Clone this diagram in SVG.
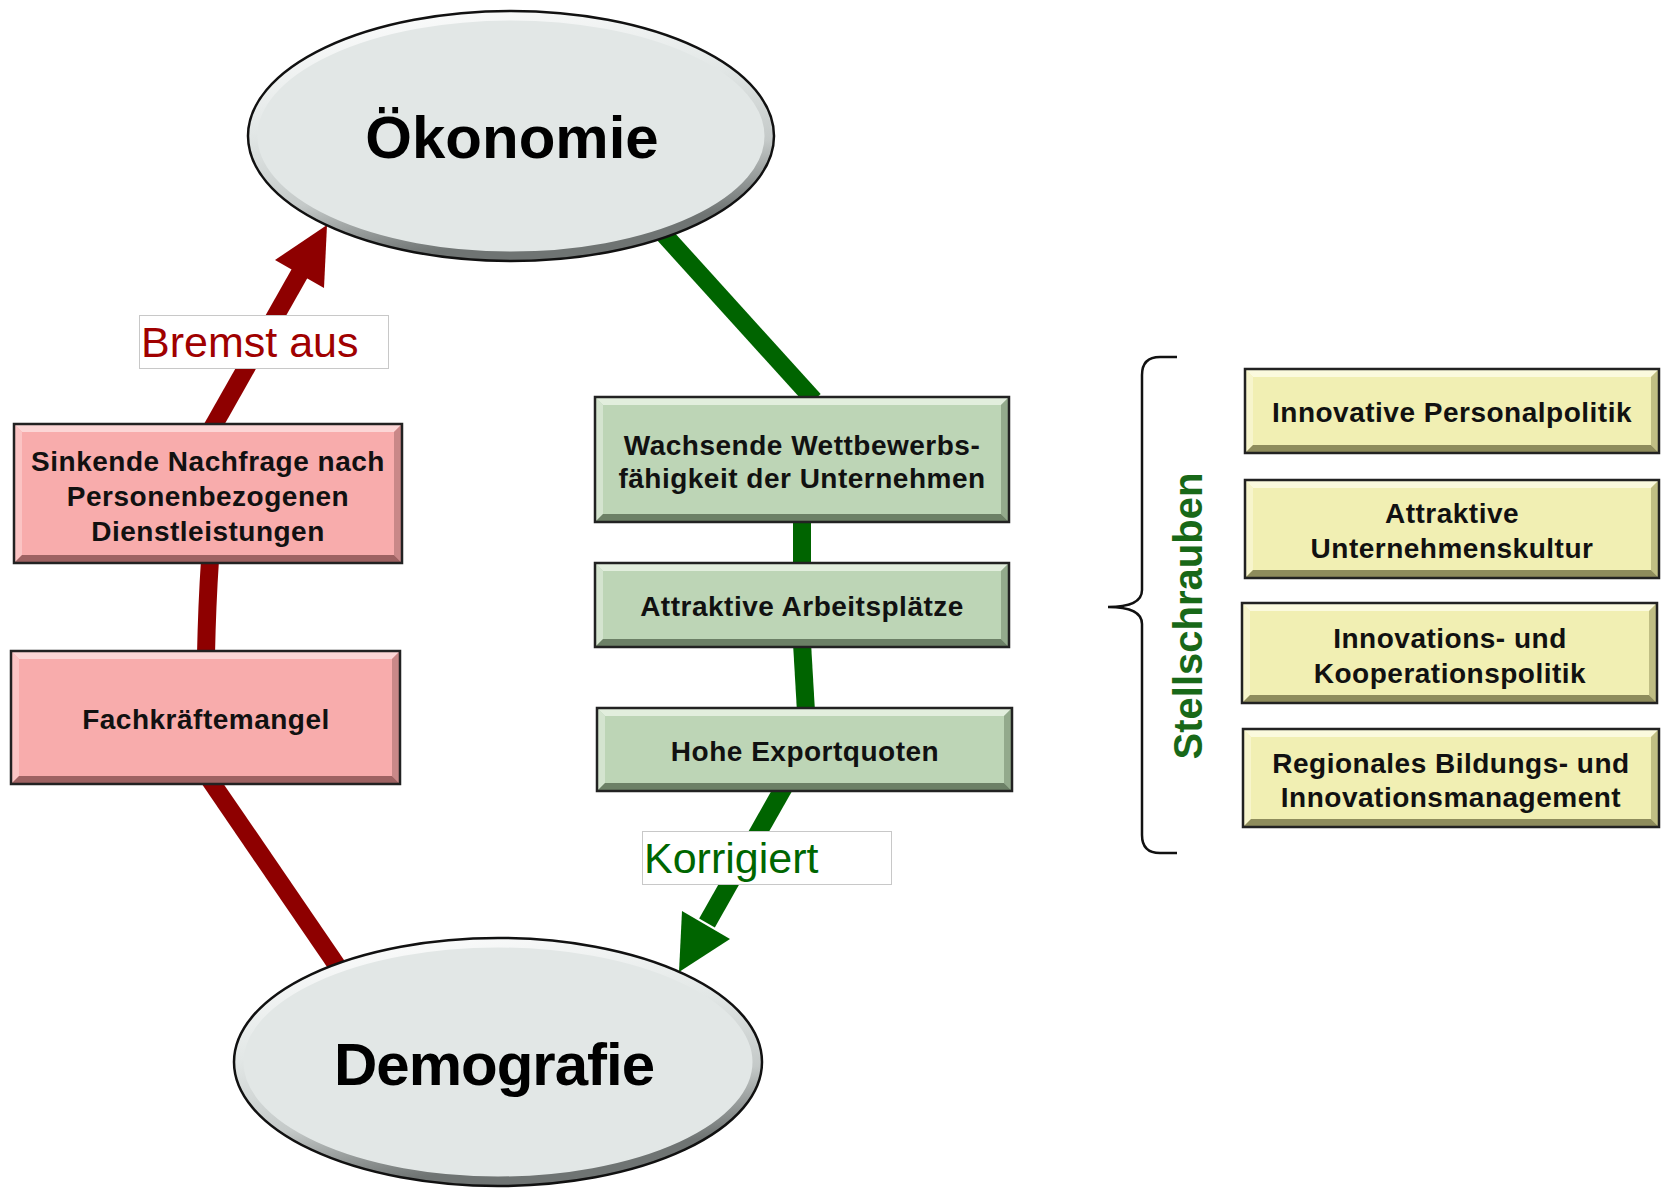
<svg xmlns="http://www.w3.org/2000/svg" width="1671" height="1189" viewBox="0 0 1671 1189">
<style>
  .bt { font-family: "Liberation Sans", Arial, sans-serif; font-weight: bold; font-size: 28px; letter-spacing: 0.5px; text-anchor: middle; fill: #111; }
  .big { font-family: "Liberation Sans", Arial, sans-serif; font-weight: bold; font-size: 60px; text-anchor: middle; fill: #000; }
  .lbl { font-family: "Liberation Sans", Arial, sans-serif; font-size: 43px; }
  .frame { stroke: #222; stroke-width: 2.5; fill: none; }
  .r { fill: #f8acac; } .rt { fill: #fcd6d6; } .rl { fill: #fbc4c4; } .rr { fill: #c98888; } .rb { fill: #9e6262; }
  .g { fill: #bdd5b6; } .gt { fill: #e2eedd; } .gl { fill: #d4e4cf; } .gr { fill: #93aa8c; } .gb { fill: #6c8066; }
  .y { fill: #f1efb3; } .yt { fill: #fbfade; } .yl { fill: #f7f5cc; } .yr { fill: #c0be84; } .yb { fill: #8e8c5c; }
  .red { stroke: #8e0000; stroke-width: 18; fill: none; }
  .grn { stroke: #006400; stroke-width: 18; fill: none; }
  .lblbox { fill: #fff; stroke: #c8c8c8; stroke-width: 1; }
</style>
<defs>
  <linearGradient id="ellBevel" x1="0" y1="0" x2="0.3" y2="1">
    <stop offset="0" stop-color="#ffffff"/>
    <stop offset="0.45" stop-color="#e2e7e6"/>
    <stop offset="0.75" stop-color="#c4c9c8"/>
    <stop offset="1" stop-color="#6f7473"/>
  </linearGradient>
</defs>
<rect width="1671" height="1189" fill="#fff"/>

<g id="connectors">
  <line class="red" x1="211" y1="430" x2="301" y2="271"/>
  <polygon points="327,225 275,260 324,288" fill="#8e0000"/>
  <path class="red" d="M210 560 Q207 605 206 655"/>
  <line class="red" x1="210" y1="780" x2="340" y2="970"/>
  <line class="grn" x1="660" y1="230" x2="814" y2="400"/>
  <line class="grn" x1="802" y1="518" x2="802" y2="567"/>
  <line class="grn" x1="802" y1="643" x2="806" y2="712"/>
  <line class="grn" x1="784" y1="787" x2="707" y2="923"/>
  <polygon points="679,972 682,911 730,939" fill="#006400"/>
  <g id="label-bremst">
    <rect class="lblbox" x="139.5" y="315.5" width="249" height="53"/>
    <text class="lbl" x="141" y="357" fill="#a00000">Bremst aus</text>
  </g>
  <g id="label-korrigiert">
    <rect class="lblbox" x="642.5" y="831.5" width="249" height="53"/>
    <text class="lbl" x="644" y="873" fill="#006600">Korrigiert</text>
  </g>
</g>

<g id="oekonomie">
  <ellipse cx="511" cy="136" rx="263" ry="125" fill="#e2e7e6"/>
  <ellipse cx="511" cy="136" rx="258" ry="120" fill="none" stroke="url(#ellBevel)" stroke-width="9"/>
  <ellipse cx="511" cy="136" rx="263" ry="125" fill="none" stroke="#111" stroke-width="2.5"/>
  <text class="big" x="512" y="158">Ökonomie</text>
</g>

<g id="demografie">
  <ellipse cx="498" cy="1062" rx="264" ry="124" fill="#e2e7e6"/>
  <ellipse cx="498" cy="1062" rx="259" ry="119" fill="none" stroke="url(#ellBevel)" stroke-width="9"/>
  <ellipse cx="498" cy="1062" rx="264" ry="124" fill="none" stroke="#111" stroke-width="2.5"/>
  <text class="big" x="494" y="1085" letter-spacing="-1">Demografie</text>
</g>

<g id="sinkende-nachfrage">
  <rect class="r" x="14" y="424" width="388" height="139"/>
  <polygon class="rt" points="14,424 402,424 394,432 22,432"/>
  <polygon class="rl" points="14,424 22,432 22,555 14,563"/>
  <polygon class="rr" points="402,424 402,563 394,555 394,432"/>
  <polygon class="rb" points="14,563 402,563 394,555 22,555"/>
  <rect class="frame" x="14" y="424" width="388" height="139"/>
  <text class="bt" x="208" y="471">Sinkende Nachfrage nach</text>
  <text class="bt" x="208" y="506">Personenbezogenen</text>
  <text class="bt" x="208" y="541">Dienstleistungen</text>
</g>

<g id="fachkraeftemangel">
  <rect class="r" x="11" y="651" width="389" height="133"/>
  <polygon class="rt" points="11,651 400,651 392,659 19,659"/>
  <polygon class="rl" points="11,651 19,659 19,776 11,784"/>
  <polygon class="rr" points="400,651 400,784 392,776 392,659"/>
  <polygon class="rb" points="11,784 400,784 392,776 19,776"/>
  <rect class="frame" x="11" y="651" width="389" height="133"/>
  <text class="bt" x="206" y="729">Fachkräftemangel</text>
</g>

<g id="wettbewerbsfaehigkeit">
  <rect class="g" x="595" y="397" width="414" height="125"/>
  <polygon class="gt" points="595,397 1009,397 1001,405 603,405"/>
  <polygon class="gl" points="595,397 603,405 603,514 595,522"/>
  <polygon class="gr" points="1009,397 1009,522 1001,514 1001,405"/>
  <polygon class="gb" points="595,522 1009,522 1001,514 603,514"/>
  <rect class="frame" x="595" y="397" width="414" height="125"/>
  <text class="bt" x="802" y="455">Wachsende Wettbewerbs-</text>
  <text class="bt" x="802" y="488">fähigkeit der Unternehmen</text>
</g>

<g id="arbeitsplaetze">
  <rect class="g" x="595" y="563" width="414" height="84"/>
  <polygon class="gt" points="595,563 1009,563 1001,571 603,571"/>
  <polygon class="gl" points="595,563 603,571 603,639 595,647"/>
  <polygon class="gr" points="1009,563 1009,647 1001,639 1001,571"/>
  <polygon class="gb" points="595,647 1009,647 1001,639 603,639"/>
  <rect class="frame" x="595" y="563" width="414" height="84"/>
  <text class="bt" x="802" y="616">Attraktive Arbeitsplätze</text>
</g>

<g id="exportquoten">
  <rect class="g" x="597" y="708" width="415" height="83"/>
  <polygon class="gt" points="597,708 1012,708 1004,716 605,716"/>
  <polygon class="gl" points="597,708 605,716 605,783 597,791"/>
  <polygon class="gr" points="1012,708 1012,791 1004,783 1004,716"/>
  <polygon class="gb" points="597,791 1012,791 1004,783 605,783"/>
  <rect class="frame" x="597" y="708" width="415" height="83"/>
  <text class="bt" x="805" y="761">Hohe Exportquoten</text>
</g>

<g id="stellschrauben">
  <path d="M1177 357 L1160 357 Q1142 357 1142 375 L1142 590 Q1142 607 1108 607 Q1142 607 1142 624 L1142 835 Q1142 853 1160 853 L1177 853" fill="none" stroke="#111" stroke-width="2.5"/>
  <text x="1202" y="616" transform="rotate(-90 1202 616)" text-anchor="middle" font-family="'Liberation Sans', Arial, sans-serif" font-weight="bold" font-size="40" fill="#186818">Stellschrauben</text>
</g>

<g id="personalpolitik">
  <rect class="y" x="1245" y="369" width="414" height="84"/>
  <polygon class="yt" points="1245,369 1659,369 1651,377 1253,377"/>
  <polygon class="yl" points="1245,369 1253,377 1253,445 1245,453"/>
  <polygon class="yr" points="1659,369 1659,453 1651,445 1651,377"/>
  <polygon class="yb" points="1245,453 1659,453 1651,445 1253,445"/>
  <rect class="frame" x="1245" y="369" width="414" height="84"/>
  <text class="bt" x="1452" y="422">Innovative Personalpolitik</text>
</g>

<g id="unternehmenskultur">
  <rect class="y" x="1245" y="480" width="414" height="98"/>
  <polygon class="yt" points="1245,480 1659,480 1651,488 1253,488"/>
  <polygon class="yl" points="1245,480 1253,488 1253,570 1245,578"/>
  <polygon class="yr" points="1659,480 1659,578 1651,570 1651,488"/>
  <polygon class="yb" points="1245,578 1659,578 1651,570 1253,570"/>
  <rect class="frame" x="1245" y="480" width="414" height="98"/>
  <text class="bt" x="1452" y="523">Attraktive</text>
  <text class="bt" x="1452" y="558">Unternehmenskultur</text>
</g>

<g id="kooperationspolitik">
  <rect class="y" x="1242" y="603" width="415" height="100"/>
  <polygon class="yt" points="1242,603 1657,603 1649,611 1250,611"/>
  <polygon class="yl" points="1242,603 1250,611 1250,695 1242,703"/>
  <polygon class="yr" points="1657,603 1657,703 1649,695 1649,611"/>
  <polygon class="yb" points="1242,703 1657,703 1649,695 1250,695"/>
  <rect class="frame" x="1242" y="603" width="415" height="100"/>
  <text class="bt" x="1450" y="648">Innovations- und</text>
  <text class="bt" x="1450" y="683">Kooperationspolitik</text>
</g>

<g id="bildungsmanagement">
  <rect class="y" x="1243" y="729" width="416" height="98"/>
  <polygon class="yt" points="1243,729 1659,729 1651,737 1251,737"/>
  <polygon class="yl" points="1243,729 1251,737 1251,819 1243,827"/>
  <polygon class="yr" points="1659,729 1659,827 1651,819 1651,737"/>
  <polygon class="yb" points="1243,827 1659,827 1651,819 1251,819"/>
  <rect class="frame" x="1243" y="729" width="416" height="98"/>
  <text class="bt" x="1451" y="773">Regionales Bildungs- und</text>
  <text class="bt" x="1451" y="807">Innovationsmanagement</text>
</g>
</svg>
